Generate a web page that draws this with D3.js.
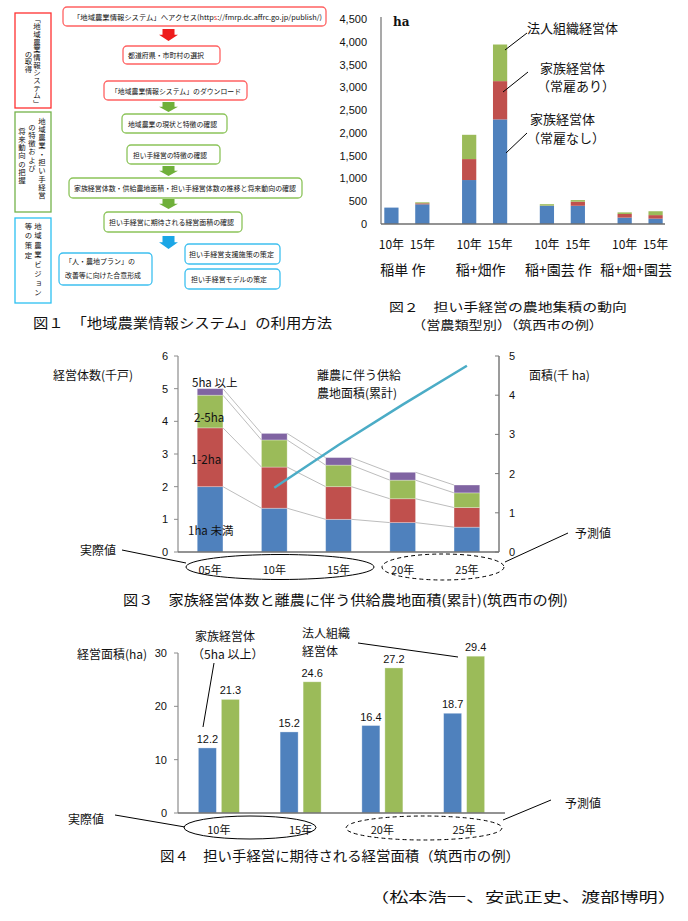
<!DOCTYPE html>
<html><head><meta charset="utf-8">
<script src="https://cdn.jsdelivr.net/npm/d3@7"></script>
<style>
body{margin:0;background:#fff}
svg{display:block}
text{font-family:"Noto Sans CJK JP","Noto Sans",sans-serif;fill:#111}
.num{font-family:"Liberation Sans","DejaVu Sans",sans-serif}
.vert{writing-mode:vertical-rl;text-orientation:mixed}
</style>
</head><body>
<svg id="c" width="688" height="921"></svg>
<script>
// ---------- DATA ----------
// Figure 2
const fig2Types = ["稲単 作", "稲+畑作", "稲+園芸 作", "稲+畑+園芸"];
const fig2Years = ["10年", "15年"];
const fig2Series = ["家族経営体（常雇なし）", "家族経営体（常雇あり）", "法人組織経営体"];
// order: type0-10, type0-15, type1-10, type1-15, ...
const fig2NoEmployee = [360, 432, 965, 2296, 400, 400, 140, 118];
const fig2Employee   = [0, 22, 460, 840, 3, 90, 80, 77];
const fig2Corporate  = [0, 22, 533, 804, 32, 35, 35, 85];
const fig2Ticks = [0, 500, 1000, 1500, 2000, 2500, 3000, 3500, 4000, 4500];

// Figure 3
const fig3Years = ["05年", "10年", "15年", "20年", "25年"];
const fig3Under1 = [2.0, 1.34, 1.0, 0.9, 0.76];
const fig3From1to2 = [1.8, 1.26, 1.0, 0.73, 0.6];
const fig3From2to5 = [1.0, 0.83, 0.66, 0.57, 0.45];
const fig3Over5 = [0.2, 0.2, 0.23, 0.24, 0.24];
const fig3Supplied = [null, 1.64, 2.73, 3.76, 4.75];
const fig3LeftTicks = [0, 1, 2, 3, 4, 5, 6];
const fig3RightTicks = [0, 1, 2, 3, 4, 5];

// Figure 4
const fig4Years = ["10年", "15年", "20年", "25年"];
const fig4Family = [12.2, 15.2, 16.4, 18.7];
const fig4Corporate = [21.3, 24.6, 27.2, 29.4];
const fig4Ticks = [0, 10, 20, 30];

// ---------- COLOURS ----------
const cBlue = "#4f81bd", cRed = "#c0504d", cGreen = "#9bbb59", cPurple = "#8064a2", cCyan = "#4bacc6";
const svg = d3.select("#c");

function txt(x, y, s, size, opts = {}) {
  const t = svg.append("text").attr("x", x).attr("y", y).attr("font-size", size)
    .attr("dominant-baseline", "central").attr("text-anchor", opts.anchor || "start").text(s);
  if (opts.len) t.attr("textLength", opts.len).attr("lengthAdjust", "spacingAndGlyphs");
  if (opts.cls) t.attr("class", opts.cls);
  if (opts.weight) t.attr("font-weight", opts.weight);
  if (opts.family) t.style("font-family", opts.family);
  return t;
}
function line(x1, y1, x2, y2, col = "#000", w = 1, dash) {
  const l = svg.append("line").attr("x1", x1).attr("y1", y1).attr("x2", x2).attr("y2", y2)
    .attr("stroke", col).attr("stroke-width", w);
  if (dash) l.attr("stroke-dasharray", dash);
  return l;
}

// ---------- FIGURE 1 : flow chart ----------
const fRed = "#ff6262", fGreen = "#8cc45a", fBlue = "#3ec0f0";
const flowBoxes = [
  {x: 63, y: 7, w: 263, h: 19, c: fRed},
  {x: 123, y: 46, w: 97, h: 18, c: fRed, t: "都道府県・市町村の選択", tx: 128, tl: 76},
  {x: 104, y: 81, w: 143, h: 19, c: fRed, t: "「地域農業情報システム」のダウンロード", tx: 111, tl: 130},
  {x: 122, y: 114, w: 105, h: 19, c: fGreen, t: "地域農業の現状と特徴の確認", tx: 128, tl: 89},
  {x: 127, y: 145, w: 93, h: 19, c: fGreen, t: "担い手経営の特徴の確認", tx: 133, tl: 74},
  {x: 69, y: 178, w: 233, h: 20, c: fGreen, t: "家族経営体数・供給農地面積・担い手経営体数の推移と将来動向の確認", tx: 74, tl: 222},
  {x: 104, y: 212, w: 138, h: 20, c: fGreen, t: "担い手経営に期待される経営面積の確認", tx: 109, tl: 125},
  {x: 185, y: 244, w: 95, h: 20, c: fBlue, t: "担い手経営支援施策の策定", tx: 189, tl: 85},
  {x: 185, y: 269, w: 95, h: 20, c: fBlue, t: "担い手経営モデルの策定", tx: 191, tl: 76},
  {x: 59, y: 253, w: 93, h: 32, c: fBlue}
];
flowBoxes.forEach(b => {
  svg.append("rect").attr("x", b.x).attr("y", b.y).attr("width", b.w).attr("height", b.h)
    .attr("rx", 4).attr("fill", "#fff").attr("stroke", b.c).attr("stroke-width", 1.3);
  if (b.t) txt(b.tx, b.y + b.h / 2, b.t, 7, {len: b.tl});
});
{
  const t = svg.append("text").attr("x", 73).attr("y", 16.5).attr("font-size", 7)
    .attr("dominant-baseline", "central").attr("textLength", 249).attr("lengthAdjust", "spacingAndGlyphs");
  t.append("tspan").text("「地域農業情報システム」へアクセス(http");
  t.append("tspan").attr("fill", "#e03030").style("fill", "#e03030").text("s");
  t.append("tspan").text("://fmrp.dc.affrc.go.jp/publish/)");
}
txt(65, 261, "「人・農地プラン」の", 7, {len: 70});
txt(65, 275, "改善等に向けた合意形成", 7, {len: 76});

// arrows
function blockArrow(cx, y0, y1, col) {
  const hw = 9.5, sw = 6, mid = y0 + (y1 - y0) * 0.48;
  svg.append("path").attr("fill", col)
    .attr("d", `M${cx - sw},${y0} L${cx + sw},${y0} L${cx + sw},${mid} L${cx + hw},${mid} L${cx},${y1} L${cx - hw},${mid} L${cx - sw},${mid} Z`);
}
blockArrow(168.5, 29, 41, "#ee1c1c");
blockArrow(168.5, 102, 112, "#6fb03a");
blockArrow(168.5, 166, 176, "#6fb03a");
blockArrow(168.5, 199, 209, "#6fb03a");
blockArrow(168.5, 236, 249, "#1ba6e6");

// left stage boxes with vertical text
const stages = [
  {y: 13, h: 95, c: "#ff3030", cols: [{x: 37, y: 15, t: "「地域農業情報システム」", len: 92}, {x: 28.5, y: 50, t: "の取得", len: 23}]},
  {y: 112, h: 100, c: "#74b34a", cols: [{x: 42, y: 117, t: "地域農業・担い手経営", len: 82}, {x: 32, y: 123, t: "の特徴および", len: 49}, {x: 22, y: 127, t: "将来動向の把握", len: 57}]},
  {y: 218, h: 85, c: "#2cc0f2", cols: [{x: 38, y: 222, t: "地域農業ビジョン", len: 74}, {x: 28.5, y: 222, t: "等の策定", len: 37}]}
];
stages.forEach(s => {
  svg.append("rect").attr("x", 15).attr("y", s.y).attr("width", 36).attr("height", s.h)
    .attr("fill", "#fff").attr("stroke", s.c).attr("stroke-width", 1.3);
  s.cols.forEach(c => {
    svg.append("text").attr("class", "vert").attr("x", c.x).attr("y", c.y).attr("font-size", 7.4)
      .attr("textLength", c.len).attr("lengthAdjust", "spacing").text(c.t);
  });
});
txt(33, 322, "図１　「地域農業情報システム」の利用方法", 13.5, {len: 299});

// ---------- FIGURE 2 ----------
{
  const y = d3.scaleLinear().domain([0, 4500]).range([224, 19]);
  const xg = d3.scaleBand().domain(fig2Types).range([368, 679]);
  const xs = d3.scaleBand().domain(fig2Years).range([-23.5, 23.5]).paddingInner(0.54).paddingOuter(0.03);
  const items = [];
  fig2Types.forEach((t, i) => fig2Years.forEach((yr, j) => {
    const k = i * 2 + j;
    items.push({t, yr, vals: [fig2NoEmployee[k], fig2Employee[k], fig2Corporate[k]]});
  }));
  const cols = [cBlue, cRed, cGreen];
  items.forEach(d => {
    const cx = xg(d.t) + xg.bandwidth() / 2 + xs(d.yr);
    let acc = 0;
    d.vals.forEach((v, si) => {
      if (v <= 0) return;
      svg.append("rect").attr("x", cx).attr("width", xs.bandwidth())
        .attr("y", y(acc + v)).attr("height", y(acc) - y(acc + v)).attr("fill", cols[si]);
      acc += v;
    });
    txt(cx + xs.bandwidth() / 2, 243, d.yr, 12, {anchor: "middle"});
  });
  // axes
  line(381, 17, 381, 224, "#8c8c8c", 1.5);
  line(381, 224, 665, 224, "#6f6f6f", 1.5);
  fig2Ticks.forEach(v => txt(367, y(v), d3.format(",")(v), 11, {anchor: "end", cls: "num"}));
  txt(393, 22, "ha", 12, {weight: "bold", family: "'DejaVu Serif',serif"});
  fig2Types.forEach(t => txt(xg(t) + xg.bandwidth() / 2 - 4, 269, t, 14, {anchor: "middle"}));
  // annotations
  txt(527, 27, "法人組織経営体", 13);
  line(505, 50, 527, 33);
  txt(540, 67, "家族経営体", 13);
  txt(537, 85, "（常雇あり）", 13);
  line(503, 92, 528, 72);
  txt(530, 118, "家族経営体", 13);
  txt(527, 137, "（常雇なし）", 13);
  line(506, 153, 527, 133);
  txt(389, 306, "図２　担い手経営の農地集積の動向", 12, {len: 238});
  txt(412, 324, "（営農類型別）（筑西市の例）", 12, {len: 191});
}

// ---------- FIGURE 3 ----------
{
  const x = d3.scaleBand().domain(fig3Years).range([178, 499]).paddingInner(0.6).paddingOuter(0.3);
  const yl = d3.scaleLinear().domain([0, 6]).range([552, 356]);
  const yr = d3.scaleLinear().domain([0, 5]).range([552, 356]);
  const series = [fig3Under1, fig3From1to2, fig3From2to5, fig3Over5];
  const cols = [cBlue, cRed, cGreen, cPurple];
  const stack = fig3Years.map((yy, i) => {
    let acc = 0;
    return series.map(s => { const a = acc; acc += s[i]; return [a, acc]; });
  });
  // connector lines
  for (let i = 0; i < fig3Years.length - 1; i++) {
    for (let s = 0; s < 4; s++) {
      line(x(fig3Years[i]) + x.bandwidth(), yl(stack[i][s][1]), x(fig3Years[i + 1]), yl(stack[i + 1][s][1]), "#bdbdbd", 1);
    }
  }
  fig3Years.forEach((yy, i) => {
    stack[i].forEach((seg, s) => {
      svg.append("rect").attr("x", x(yy)).attr("width", x.bandwidth())
        .attr("y", yl(seg[1])).attr("height", yl(seg[0]) - yl(seg[1]))
        .attr("fill", cols[s]).attr("stroke", "#ffffff").attr("stroke-opacity", 0.35).attr("stroke-width", 0.8);
    });
    txt(x(yy) + x.bandwidth() / 2, 569, yy, 11, {anchor: "middle"});
  });
  // supplied area line
  const lg = d3.line().defined(d => d.v != null).x(d => x(d.k) + x.bandwidth() / 2).y(d => yr(d.v));
  svg.append("path").datum(fig3Years.map((k, i) => ({k, v: fig3Supplied[i]})))
    .attr("d", lg).attr("fill", "none").attr("stroke", cCyan).attr("stroke-width", 2.5);
  // axes
  line(178, 356, 178, 552, "#8c8c8c", 1.2);
  line(499, 356, 499, 552, "#7a7a7a", 1.5);
  line(178, 552, 499, 552, "#6f6f6f", 1.5);
  fig3LeftTicks.forEach(v => { line(174, yl(v), 178, yl(v), "#8c8c8c", 1); txt(168, yl(v), v, 11, {anchor: "end", cls: "num"}); });
  fig3RightTicks.forEach(v => { line(495, yr(v), 499, yr(v), "#7a7a7a", 1); txt(509, yr(v), v, 11, {cls: "num"}); });
  txt(53, 374, "経営体数(千戸)", 12);
  txt(529, 374, "面積(千 ha)", 12);
  txt(317, 374, "離農に伴う供給", 12);
  txt(317, 392, "農地面積(累計)", 12);
  txt(192, 382, "5ha 以上", 11.5);
  txt(194, 417, "2-5ha", 11.5);
  txt(191, 459, "1-2ha", 11.5);
  txt(188, 530, "1ha 未満", 11.5);
  svg.append("ellipse").attr("cx", 280).attr("cy", 567).attr("rx", 94).attr("ry", 12.5)
    .attr("fill", "none").attr("stroke", "#000").attr("stroke-width", 1);
  svg.append("ellipse").attr("cx", 443).attr("cy", 567).attr("rx", 61).attr("ry", 13)
    .attr("fill", "none").attr("stroke", "#000").attr("stroke-width", 1).attr("stroke-dasharray", "4,3");
  txt(80, 549, "実際値", 12);
  line(122, 550, 186, 563);
  txt(575, 532, "予測値", 12);
  line(505, 562, 568, 533);
  txt(123, 599, "図３　家族経営体数と離農に伴う供給農地面積(累計)(筑西市の例)", 13.5, {len: 445});
}

// ---------- FIGURE 4 ----------
{
  const x = d3.scaleBand().domain(fig4Years).range([178, 505]);
  const y = d3.scaleLinear().domain([0, 30]).range([813, 653]);
  const bw = 18, off = 11.5;
  fig4Years.forEach((yy, i) => {
    const c = x(yy) + x.bandwidth() / 2;
    [[fig4Family[i], cBlue, -off], [fig4Corporate[i], cGreen, off]].forEach(([v, col, o]) => {
      svg.append("rect").attr("x", c + o - bw / 2).attr("width", bw).attr("y", y(v)).attr("height", y(0) - y(v))
        .attr("fill", col).attr("stroke", "#ffffff").attr("stroke-opacity", 0.4).attr("stroke-width", 0.8);
      txt(c + o, y(v) - 9, v.toFixed(1), 11, {anchor: "middle", cls: "num"});
    });
    txt(c, 829, yy, 11, {anchor: "middle"});
  });
  line(178, 653, 178, 813, "#8c8c8c", 1.2);
  line(178, 813, 505, 813, "#6f6f6f", 1.5);
  fig4Ticks.forEach(v => { line(174, y(v), 178, y(v), "#8c8c8c", 1); txt(167, y(v), v, 11, {anchor: "end", cls: "num"}); });
  txt(77, 653, "経営面積(ha)", 12);
  txt(195, 635, "家族経営体", 12);
  txt(192, 653, "（5ha 以上）", 12);
  line(214, 663, 203, 727);
  txt(302, 632, "法人組織", 12);
  txt(302, 650, "経営体", 12);
  line(358, 643, 458, 657);
  svg.append("ellipse").attr("cx", 250).attr("cy", 827.5).attr("rx", 66).attr("ry", 11.5)
    .attr("fill", "none").attr("stroke", "#000").attr("stroke-width", 1);
  svg.append("ellipse").attr("cx", 424).attr("cy", 828).attr("rx", 78).attr("ry", 12)
    .attr("fill", "none").attr("stroke", "#000").attr("stroke-width", 1).attr("stroke-dasharray", "4,3");
  txt(68, 818, "実際値", 12);
  line(115, 815, 185, 827);
  txt(565, 802, "予測値", 12);
  line(503, 820, 551, 800);
  txt(160, 855, "図４　担い手経営に期待される経営面積（筑西市の例）", 13.5, {len: 360});
}

txt(370, 896, "（松本浩一、安武正史、渡部博明）", 13.5, {len: 307});
</script>
</body></html>
